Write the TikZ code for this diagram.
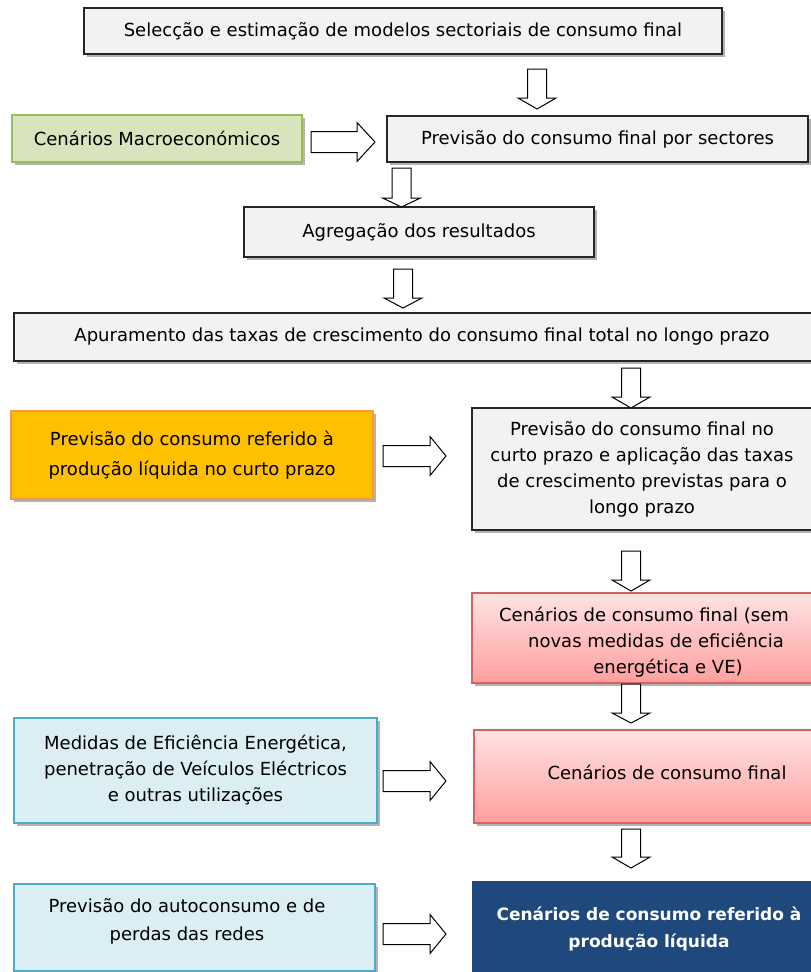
\documentclass[tikz,border=0pt]{standalone}
\usepackage{fontspec}
\setmainfont{DejaVu Sans}
\usetikzlibrary{shadows}
\definecolor{boxgray}{HTML}{F2F2F2}
\definecolor{boxline}{HTML}{262626}
\definecolor{grfill}{HTML}{D7E4BD}
\definecolor{grline}{HTML}{9BBB59}
\definecolor{orfill}{HTML}{FFC000}
\definecolor{orline}{HTML}{F79646}
\definecolor{rdtop}{HTML}{FFE3E3}
\definecolor{rdbot}{HTML}{FF9E9E}
\definecolor{rdline}{HTML}{D9625E}
\definecolor{bluefill}{HTML}{DBEEF4}
\definecolor{blueline}{HTML}{4BACC6}
\definecolor{navy}{HTML}{1F497D}
\newcommand\darr[4]{%
  \draw[blockarrow] (#1-9.5,#2) -- (#1+9.5,#2) -- (#1+9.5,#3) -- (#1+19,#3) -- (#1,#4) -- (#1-19,#3) -- (#1-9.5,#3) -- cycle;}
\newcommand\rarr[4]{%
  \draw[blockarrow] (#1,#4-10.5) -- (#2,#4-10.5) -- (#2,#4-19.5) -- (#3,#4) -- (#2,#4+19.5) -- (#2,#4+10.5) -- (#1,#4+10.5) -- cycle;}
\begin{document}
\begin{tikzpicture}[x=1pt,y=-1pt,
  font=\fontsize{18}{26}\selectfont,
  box/.style={rectangle, inner sep=0pt, align=center, line width=1.4pt,
    drop shadow={shadow xshift=2.5pt, shadow yshift=-3pt, opacity=0.3, fill=black}},
  graybox/.style={box, draw=boxline, fill=boxgray},
  greenbox/.style={box, draw=grline, fill=grfill},
  orangebox/.style={box, draw=orline, fill=orfill},
  redbox/.style={box, draw=rdline, top color=rdtop, bottom color=rdbot},
  bluebox/.style={box, draw=blueline, fill=bluefill},
  navybox/.style={box, draw=navy, fill=navy},
  txt/.style={inner sep=0pt, align=center},
  blockarrow/.style={draw=black, fill=white, line width=1pt, line join=miter}]
\clip (0,0) rectangle (811,972);
\fill[white] (0,0) rectangle (811,972);

\node[graybox, minimum width=638, minimum height=46] (sel) at (403,31)
  {Selecção e estimação de modelos sectoriais de consumo final};
\node[greenbox, minimum width=290, minimum height=47] (macro) at (157,138.5)
  {Cenários Macroeconómicos};
\node[graybox, minimum width=421, minimum height=46] (prevsec) at (597.5,139)
  {Previsão do consumo final por sectores};
\node[graybox, minimum width=350, minimum height=50] (agreg) at (419,232)
  {Agregação dos resultados};
\node[graybox, minimum width=816, minimum height=48] (apur) at (422,337)
  {Apuramento das taxas de crescimento do consumo final total no longo prazo};
\node[orangebox, minimum width=362, minimum height=88] (orange) at (192,455)
  {Previsão do consumo referido à\\[4pt]produção líquida no curto prazo};
\node[graybox, minimum width=340, minimum height=122] (curto) at (642,469)
  {Previsão do consumo final no\\curto prazo e aplicação das taxas\\de crescimento previstas para o\\longo prazo};
\node[redbox, minimum width=340, minimum height=90] (cen1) at (642,638) {};
\node[txt] (cen1t) at (656,642)
  {Cenários de consumo final (sem\hspace*{24pt}\\novas medidas de eficiência\\\hspace*{24pt}energética e VE)};
\node[bluebox, minimum width=363, minimum height=105] (medidas) at (195.5,770.5)
  {Medidas de Eficiência Energética,\\penetração de Veículos Eléctricos\\e outras utilizações};
\node[redbox, minimum width=338, minimum height=93] (cen2) at (643,776.5) {};
\node[txt] (cen2t) at (667,772) {Cenários de consumo final};
\node[bluebox, minimum width=361, minimum height=87] (auto) at (194.5,927.5) {};
\node[txt] (autot) at (187,921)
  {Previsão do autoconsumo e de\\[2pt]perdas das redes};
\node[navybox, minimum width=339, minimum height=94] (liq) at (642.5,929) {};
\node[txt, text=white, font=\fontsize{17}{27}\selectfont\bfseries] (liqt) at (649,929)
  {Cenários de consumo referido à\\produção líquida};

\darr{537}{69}{98}{109}
\darr{401.5}{168}{198}{207}
\darr{403}{269}{298}{308}
\darr{631}{368}{397}{408}
\darr{631}{551}{580}{591}
\darr{631}{684}{713}{723}
\darr{631}{829}{857}{868}

\rarr{311}{357}{375}{142}
\rarr{383}{430}{446}{456}
\rarr{383}{430}{446}{781}
\rarr{383}{430}{446}{934}
\end{tikzpicture}
\end{document}
